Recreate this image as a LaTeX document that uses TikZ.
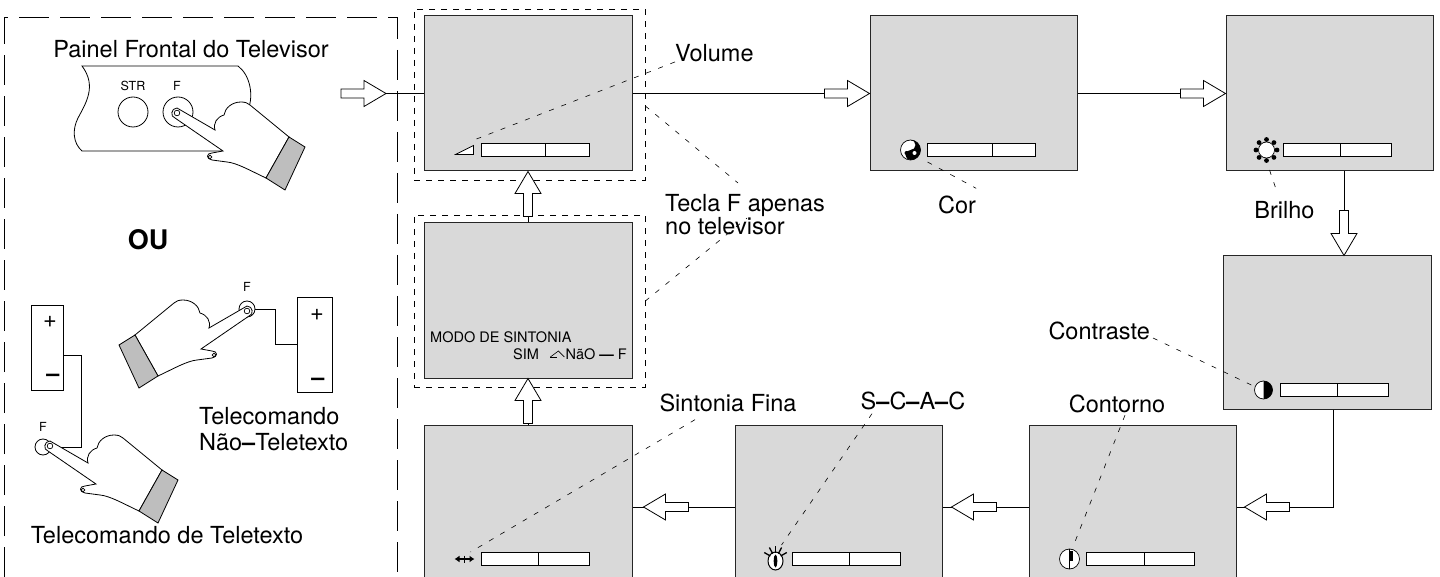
\documentclass[tikz,border=0pt]{standalone}
\usepackage{fontspec}
\setmainfont{TeX Gyre Heros}
\usetikzlibrary{calc,arrows.meta}
\definecolor{screengray}{RGB}{217,217,217}
\definecolor{cuffgray}{RGB}{190,190,190}
\newcommand{\bigtxt}{\fontsize{23.5}{22}\selectfont}
\newcommand{\smalltxt}{\fontsize{12.5}{14}\selectfont}
\newcommand{\osdtxt}{\fontsize{14.5}{17}\selectfont}
\begin{document}
\begin{tikzpicture}[x=1pt, y=-1pt,
    screen/.style={draw=black!85, line width=1pt, fill=screengray, inner sep=0pt},
    grpbox/.style={draw, line width=0.7pt, dash pattern=on 6pt off 6pt, inner sep=0pt},
    leader/.style={line width=0.6pt, dash pattern=on 5pt off 8pt},
    conn/.style={line width=1pt},
    txt/.style={font=\bigtxt, inner sep=0pt},
    osd/.style={font=\osdtxt, inner sep=0pt},
    blockarrow/.pic={\draw[line width=0.8pt, fill=white] (0,0) -- (-22,-13) -- (-22,-4.5) -- (-45,-4.5) -- (-45,4.5) -- (-22,4.5) -- (-22,13) -- cycle;},
    hand/.pic={
      \draw[line width=0.8pt, fill=white] (0,-5) -- (38,17)
        .. controls (36,10) and (40,4) .. (47,2)
        .. controls (48,-5) and (55,-11) .. (64,-11)
        .. controls (68,-11) and (71,-10) .. (73,-8)
        -- (112,24) -- (89,65)
        .. controls (72,57) and (60,50) .. (50,49)
        -- (35,47) .. controls (29,46) and (29,40) .. (35,40)
        -- (46,38) -- (-2,5)
        .. controls (-7,4) and (-6,-5) .. (0,-5) -- cycle;
      \draw[line width=0.8pt, fill=cuffgray] (112,24) -- (128,34) -- (108,77) -- (89,65) -- cycle;
      \draw[line width=0.7pt] (0,0) circle (2.8);
      \draw[line width=0.7pt] (33,44) circle (1.8);
    }
  ]
  \useasboundingbox (0,0) rectangle (1440,577);

  % left panel
  \draw[line width=1pt, dash pattern=on 30pt off 11pt] (4,577) -- (4,18) -- (397,18) -- (397,577);

  % dashed groups
  \node[grpbox, minimum width=231, minimum height=171] (volgrp) at (529.5,94.5) {};
  \node[grpbox, minimum width=231, minimum height=172] (modogrp) at (529.5,301) {};

  % screens
  \node[screen, minimum width=208, minimum height=155] (vol) at (528,93.5) {};
  \node[screen, minimum width=208, minimum height=155] (modo) at (528,300.5) {};
  \node[screen, minimum width=208, minimum height=164] (sin) at (528,507) {};
  \node[screen, minimum width=207, minimum height=155] (cor) at (973.5,93.5) {};
  \node[screen, minimum width=207, minimum height=155] (bri) at (1329.5,93.5) {};
  \node[screen, minimum width=208, minimum height=153] (ctr) at (1327,332.5) {};
  \node[screen, minimum width=207, minimum height=164] (con) at (1132.5,507) {};
  \node[screen, minimum width=207, minimum height=164] (scac) at (838.5,507) {};

  % bars
  \foreach \s/\d in {vol/64, cor/65, bri/57, ctr/57, sin/57, scac/57, con/58} {
    \draw[line width=0.8pt, fill=white] ($(\s.north west)+(58,128)$) rectangle ++(108,13);
    \draw[line width=0.8pt] ($(\s.north west)+(58+\d,128)$) -- ++(0,13);
    \coordinate (\s-ic) at ($(\s.north west)+(41,134.5)$);
  }

  % icons
  \draw[line width=0.7pt, fill=white] ([shift={(-9,4.5)}]vol-ic) -- ++(18,0) -- ++(0,-9) -- cycle;
  \draw[line width=0.7pt, fill=white] (cor-ic) circle (10);
  \fill (cor-ic) ++(0,-10) arc[start angle=-90, end angle=90, radius=10]
    arc[start angle=90, end angle=270, radius=5] arc[start angle=90, end angle=-90, radius=5] -- cycle;
  \fill ([shift={(-4,3)}]cor-ic) circle (2);
  \fill[white] ([shift={(4,3)}]cor-ic) circle (2);
  \draw[line width=0.7pt, fill=white] (bri-ic) circle (8);
  \foreach \a in {0,45,...,315} \fill ([shift={(\a:10.5)}]bri-ic) circle (2.4);
  \draw[line width=0.7pt, fill=white] (ctr-ic) circle (9);
  \fill (ctr-ic) ++(0,-9) arc[start angle=-90, end angle=90, radius=9] -- cycle;
  \draw[line width=0.7pt, fill=white] (con-ic) circle (10);
  \draw[line width=0.7pt] (con-ic) ++(0,-10) -- ++(0,20);
  \fill (con-ic) ++(0,-8) rectangle ++(3,10);
  \draw[line width=1pt, fill=white] ([yshift=-2pt]scac-ic) ellipse (7.5 and 9);
  \fill ([yshift=-2pt]scac-ic) ellipse (1.8 and 6.5);
  \foreach \a in {-150,-118,-90,-62,-30} \draw[line width=1.3pt] ([shift={(\a:6)}]scac-ic) -- ([shift={(\a:13)}]scac-ic);
  \draw[line width=1.5pt, {Latex[length=5pt,width=7pt]}-{Latex[length=5pt,width=7pt]}] ([xshift=-10pt]sin-ic) -- ([xshift=10pt]sin-ic);
  \draw[line width=1.3pt] (sin-ic) ++(0,-3.5) -- ++(0,7);

  % OSD text
  \node[osd, anchor=base west] (modo1) at (430,342) {MODO DE SINTONIA};
  \node[osd, anchor=base west] (modo2) at (513,359) {SIM};
  \node[osd, anchor=base east] (modo3) at (627,359) {NãO \textbf{—} F};
  \draw[line width=0.6pt] ([shift={(-15,-2)}]modo3.base west) -- ++(8,-6) -- ++(6,6);
  \draw[line width=0.6pt] ([shift={(-15,-2)}]modo3.base west) -- ++(7,0);

  % connectors
  \coordinate (panelout) at (386,93.5);
  \pic at (panelout) {blockarrow};
  \draw[conn] (panelout) -- (vol.west);
  \draw[conn] (vol.east) -- ([xshift=-45pt]cor.west);
  \pic at (cor.west) {blockarrow};
  \draw[conn] (cor.east) -- ([xshift=-45pt]bri.west);
  \pic at (bri.west) {blockarrow};
  \coordinate (bridown) at ([xshift=17pt]ctr.north);
  \draw[conn] (bridown |- bri.south) -- ([yshift=45pt]bridown);
  \pic[rotate=-90] at (bridown) {blockarrow};
  \coordinate (ctrin) at ([xshift=8pt]con.east);
  \draw[conn] ([xshift=6pt]ctr.south) |- ([xshift=45pt]ctrin);
  \pic[rotate=180] at (ctrin) {blockarrow};
  \draw[conn] (ctrin) -- (con.east);
  \coordinate (conout) at ([xshift=9pt]scac.east);
  \draw[conn] (con.west) -- ([xshift=45pt]conout);
  \pic[rotate=180] at (conout) {blockarrow};
  \draw[conn] (conout) -- (scac.east);
  \coordinate (scacout) at ([xshift=11pt]sin.east);
  \draw[conn] (scac.west) -- ([xshift=45pt]scacout);
  \pic[rotate=180] at (scacout) {blockarrow};
  \draw[conn] (scacout) -- (sin.east);
  \draw[conn] (sin.north) -- ([yshift=-45pt]modo.south);
  \pic[rotate=90] at (modo.south) {blockarrow};
  \draw[conn] (modo.north) -- ([yshift=-45pt]vol.south);
  \pic[rotate=90] at (vol.south) {blockarrow};

  % labels
  \node[txt, anchor=west] (lvol) at (675,53) {Volume};
  \node[txt, anchor=north west, align=left] (ltec) at (665,194) {Tecla F apenas\\no televisor};
  \node[txt] (lcor) at (957,204.5) {Cor};
  \node[txt] (lbri) at (1284.5,210.5) {Brilho};
  \node[txt, anchor=east] (lctr) at (1150,331) {Contraste};
  \node[txt] (lcon) at (1117,404) {Contorno};
  \node[txt] (lsca) at (913,400.5) {S\textbf{–}C\textbf{–}A\textbf{–}C};
  \node[txt] (lsin) at (728,402.5) {Sintonia Fina};

  % leaders
  \draw[leader] (lvol.south west) -- ([shift={(12,-11)}]vol-ic);
  \draw[leader] ([yshift=-11.5pt]volgrp.east) -- ([shift={(73,-11)}]ltec.north west);
  \draw[leader] (modogrp.east) -- ([shift={(82,24)}]ltec.north west);
  \draw[leader] ([shift={(17,12)}]cor-ic) -- ([yshift=7pt]lcor.north east);
  \draw[leader] ([shift={(3,20)}]bri-ic) -- ([shift={(-8,-11)}]lbri.north);
  \draw[leader] ([shift={(3,7)}]lctr.east) -- ([shift={(-8,-3)}]ctr-ic);
  \draw[leader] ([shift={(8,2)}]lcon.south) -- ([shift={(3,-11)}]con-ic);
  \draw[leader] ([shift={(-41,4)}]lsca.south) -- ([shift={(6,-14)}]scac-ic);
  \draw[leader] ([shift={(-33,8)}]lsin.south) -- ([shift={(6,-7)}]sin-ic);

  % front panel
  \node[txt] (lpan) at (191,49) {Painel Frontal do Televisor};
  \draw[line width=0.8pt, fill=white] (82,66) -- (238,66)
    .. controls (250,75) and (254,95) .. (248,110)
    .. controls (244,125) and (244,140) .. (250,151) -- (82,151)
    .. controls (73,143) and (72,130) .. (78,118)
    .. controls (86,103) and (97,86) .. (82,66) -- cycle;
  \node[draw, circle, line width=0.8pt, minimum size=30, inner sep=0pt] (bstr) at (133,112) {};
  \node[draw, circle, line width=0.8pt, minimum size=30, inner sep=0pt] (bf) at (178,112) {};
  \node[font=\smalltxt, inner sep=0pt] (lstr) at (133,86) {STR};
  \node[font=\smalltxt, inner sep=0pt] (lbf) at (177,86) {F};
  \pic at (177,113) {hand};

  \node[font=\bfseries\fontsize{27}{30}\selectfont, inner sep=0pt] (ou) at (148,240) {OU};

  % remote, teletext
  \node[draw, line width=0.8pt, minimum width=32, minimum height=85, inner sep=0pt] (remA) at (47,347.5) {};
  \node[txt] at (50,322) {+};
  \node[txt] at (53,378) {\textbf{–}};
  \node[draw, circle, line width=0.8pt, minimum size=16, inner sep=0pt] (fA) at (43,447) {};
  \node[font=\smalltxt, inner sep=0pt] (lfA) at (43,427) {F};
  \draw[line width=0.8pt] ([yshift=-7.5pt]remA.east) -- ++(18,0) |- (fA.east);
  \pic at (50,446) {hand};
  \node[txt] (ltt) at (167,535) {Telecomando de Teletexto};

  % remote, non teletext
  \node[draw, line width=0.8pt, minimum width=35, minimum height=95, inner sep=0pt] (remB) at (314.5,344.5) {};
  \node[txt] at (317,315) {+};
  \node[txt] at (318,382) {\textbf{–}};
  \node[draw, circle, line width=0.8pt, minimum size=16, inner sep=0pt] (fB) at (247,309) {};
  \node[font=\smalltxt, inner sep=0pt] (lfB) at (247,287) {F};
  \draw[line width=0.8pt] (fB.east) -- ++(20,0) |- (remB.west);
  \pic[xscale=-1] at (247,311) {hand};
  \node[txt, anchor=north west, align=left] (lntt) at (199,407) {Telecomando\\[4pt]Não\textbf{–}Teletexto};
\end{tikzpicture}
\end{document}
